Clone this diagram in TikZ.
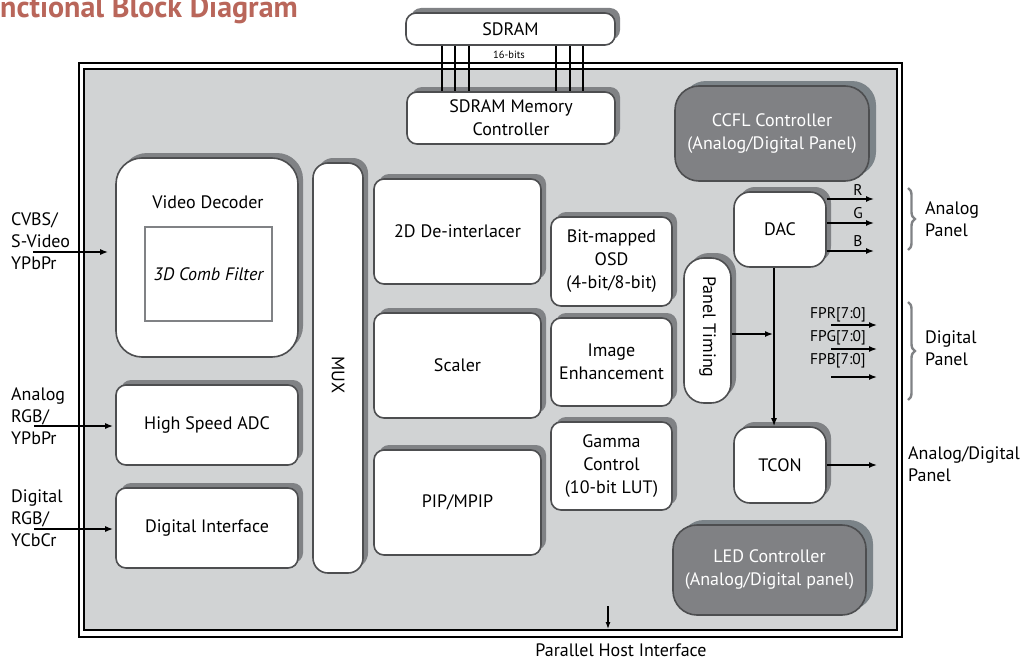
\documentclass[tikz,border=0pt]{standalone}
\usepackage{fontspec}
\setmainfont{PT Sans}
\usetikzlibrary{shadows,arrows.meta,decorations.pathreplacing}
\definecolor{bgc}{HTML}{D1D3D4}
\definecolor{shc}{HTML}{808285}
\definecolor{linec}{HTML}{4D4E50}
\definecolor{darkf}{HTML}{808184}
\definecolor{dshc}{HTML}{7B8388}
\definecolor{combc}{HTML}{808285}
\definecolor{titlec}{HTML}{B9665A}
\begin{document}
\begin{tikzpicture}[x=1pt,y=-1pt,
  base/.style={draw=linec, line width=1.6pt, fill=white, rounded corners=10pt, inner sep=0pt, align=center, font=\fontsize{18}{23}\selectfont},
  wblk/.style={base, general shadow={fill=shc, shadow xshift=5pt, shadow yshift=5pt}},
  dblk/.style={base, fill=darkf, text=white, rounded corners=24pt, general shadow={fill=dshc, shadow xshift=7pt, shadow yshift=5pt}},
  lbl/.style={font=\fontsize{18}{22}\selectfont, align=left, inner sep=0pt},
  small/.style={font=\fontsize{15.5}{18}\selectfont, inner sep=0pt},
  arr/.style={line width=1.5pt, -{Latex[length=8pt,width=6pt]}},
  bus/.style={line width=1.5pt},
  brc/.style={draw=shc, line width=2.4pt, decorate, decoration={brace, amplitude=7pt}}
]
\useasboundingbox (0,0) rectangle (1024,661);

% title
\node[anchor=west, inner sep=0pt, text=titlec, font=\bfseries\fontsize{30}{32}\selectfont] (title) at (0,10) {nctional Block Diagram};

% chip frame
\draw[line width=1.3pt, fill=white] (79,63) rectangle (902,637);
\draw[line width=1.3pt, fill=bgc] (84,69) rectangle (897,630);

% blocks
\node[wblk, minimum width=209, minimum height=32] (sdram) at (510.5,29) {SDRAM};
\node[wblk, minimum width=208, minimum height=52] (smc) at (511,118) {SDRAM Memory\\Controller};
\node[dblk, minimum width=194, minimum height=95] (ccfl) at (772,133.5) {CCFL Controller\\(Analog/Digital Panel)};
\node[dblk, minimum width=193, minimum height=90] (led) at (769.5,570) {LED Controller\\(Analog/Digital panel)};

\node[wblk, rounded corners=26pt, minimum width=182, minimum height=199] (vd) at (207,257.5) {};
\node[lbl] (vdl) at (208,202) {Video Decoder};
\node[draw=combc, line width=2pt, fill=white, minimum width=127, minimum height=94, inner sep=0pt, font=\itshape\fontsize{18}{22}\selectfont] (comb) at (208.5,274) {3D Comb Filter};
\node[wblk, minimum width=182, minimum height=80] (adc) at (207,425) {High Speed ADC};
\node[wblk, minimum width=182, minimum height=80] (di) at (207,528) {Digital Interface};

\node[wblk, rounded corners=15pt, minimum width=50, minimum height=410] (mux) at (338,368) {};
\node[lbl, rotate=-90] (muxl) at (338,375) {MUX};

\node[wblk, minimum width=167, minimum height=105] (dei) at (457.5,231.5) {2D De-interlacer};
\node[wblk, minimum width=167, minimum height=105] (scl) at (457.5,365.5) {Scaler};
\node[wblk, minimum width=167, minimum height=105] (pip) at (457.5,502.5) {PIP/MPIP};

\node[wblk, minimum width=121, minimum height=89] (osd) at (611.5,261.5) {Bit-mapped\\OSD\\(4-bit/8-bit)};
\node[wblk, minimum width=121, minimum height=88] (ie) at (611.5,362) {Image\\Enhancement};
\node[wblk, minimum width=121, minimum height=88] (gam) at (611.5,466) {Gamma\\Control\\(10-bit LUT)};

\node[wblk, rounded corners=20pt, minimum width=47, minimum height=145] (pt) at (707.5,330.5) {};
\node[lbl, rotate=-90] (ptl) at (707.5,327) {Panel Timing};

\node[wblk, rounded corners=16pt, minimum width=92, minimum height=75] (dac) at (780,229.5) {DAC};
\node[wblk, rounded corners=16pt, minimum width=92, minimum height=76] (tcon) at (780,465) {TCON};

% SDRAM bus
\foreach \xx/\nm in {442/b1,455/b2,469/b3,556/b4,570/b5,583/b6}{
  \coordinate (\nm) at (\xx,0);
  \draw[bus] (sdram.south -| \nm) -- (smc.north -| \nm);
}
\node[inner sep=0pt, font=\fontsize{10.5}{12}\selectfont] (bits) at (509,55) {16-bits};

% inputs
\node[lbl, anchor=west] (in1l) at (11,241) {CVBS/\\S-Video\\YPbPr};
\node[lbl, anchor=west] (in2l) at (11,416) {Analog\\RGB/\\YPbPr};
\node[lbl, anchor=west] (in3l) at (11,518) {Digital\\RGB/\\YCbCr};
\coordinate (in1) at (33,252);
\coordinate (in2) at (34,426);
\coordinate (in3) at (34,529);
\draw[arr, shorten >=7pt] (in1) -- (in1 -| vd.west);
\draw[arr, shorten >=2pt] (in2) -- (in2 -| adc.west);
\draw[arr, shorten >=2pt] (in3) -- (in3 -| di.west);

% DAC outputs
\coordinate (ro) at (874,199);
\coordinate (go) at (874,223);
\coordinate (bo) at (874,251);
\draw[arr] (ro -| dac.east) -- (ro);
\draw[arr] (go -| dac.east) -- (go);
\draw[arr] (bo -| dac.east) -- (bo);
\node[small] (rl) at (858,190) {R};
\node[small] (gl) at (858,213) {G};
\node[small] (bl) at (858,241) {B};

% digital panel outputs
\coordinate (f1s) at (831,325); \coordinate (f1e) at (877,325);
\coordinate (f2s) at (831,349); \coordinate (f2e) at (877,349);
\coordinate (f3s) at (831,377); \coordinate (f3e) at (877,377);
\draw[arr] (f1s) -- (f1e);
\draw[arr] (f2s) -- (f2e);
\draw[arr] (f3s) -- (f3e);
\node[small, anchor=west] (f1l) at (810,315) {FPR[7:0]};
\node[small, anchor=west] (f2l) at (810,338) {FPG[7:0]};
\node[small, anchor=west] (f3l) at (810,361) {FPB[7:0]};

% DAC -> TCON, panel timing
\coordinate (dx) at (774,0);
\draw[arr] (dac.south -| dx) -- (tcon.north -| dx);
\coordinate (junc) at (773,334);
\draw[arr] (junc -| pt.east) -- (junc);
\coordinate (tco) at (877,465);
\draw[arr] (tcon.east |- tco) -- (tco);

% braces and panel labels
\draw[brc] (908,188) -- (908,250);
\draw[brc] (908,302) -- (908,400);
\node[lbl, anchor=west] (apl) at (925,219.5) {Analog\\Panel};
\node[lbl, anchor=west] (dpl) at (925,348) {Digital\\Panel};
\node[lbl, anchor=west] (adpl) at (908,464.5) {Analog/Digital\\Panel};

% parallel host interface
\coordinate (ph1) at (608,606);
\coordinate (ph2) at (608,629);
\draw[line width=1.2pt, -{Latex[length=7pt,width=5pt]}] (ph1) -- (ph2);
\node[lbl] (phl) at (621,650) {Parallel Host Interface};
\end{tikzpicture}
\end{document}
